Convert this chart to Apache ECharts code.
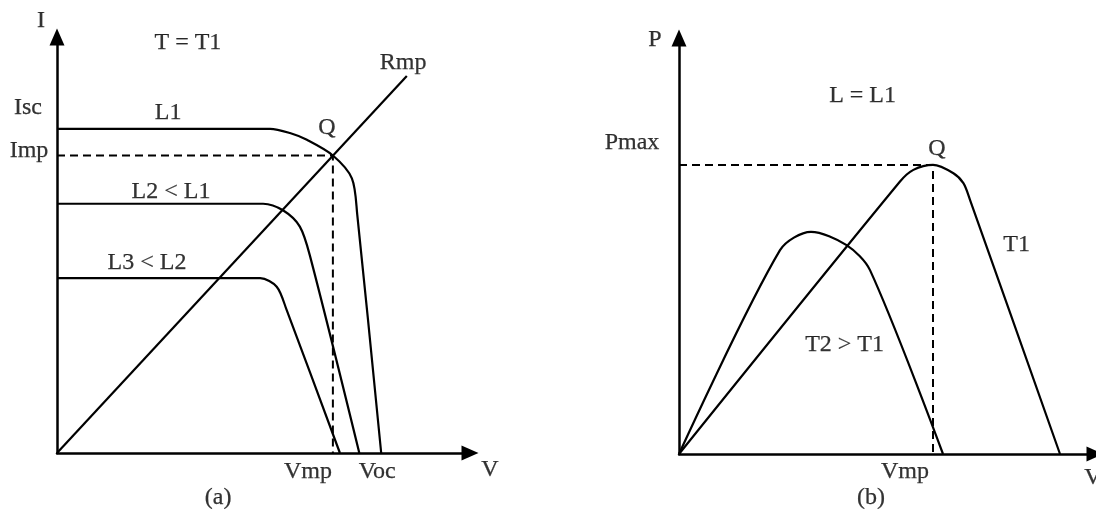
<!DOCTYPE html>
<html>
<head>
<meta charset="utf-8">
<script src="https://cdn.jsdelivr.net/npm/echarts@6/dist/echarts.min.js"></script>
<style>
  html, body { margin: 0; padding: 0; background: #ffffff; }
  #chart { width: 1096px; height: 510px; }
</style>
</head>
<body>
<div id="chart"></div>
<script>
// ---- (a) I–V characteristics at constant temperature T = T1 ----
const ISC = 76.6;      // short-circuit current of L1
const IMP = 70.3;      // current at maximum power point Q
const VMP_A = 66.8;    // voltage at maximum power point Q
const VOC = 78.5;      // open-circuit voltage of L1

const curveL1 = [[0, ISC], [51.6, ISC], [56.4, 75.6], [60.5, 74.0], [VMP_A, IMP],
                 [71.4, 64.9], [72.7, 56.3], [VOC, 0]];
const curveL2 = [[0, 58.9], [49.9, 58.9], [54.8, 57.3], [58.8, 53.5], [61.3, 46.4], [73.2, 0]];
const curveL3 = [[0, 41.3], [49.2, 41.3], [53.2, 39.3], [55.6, 33.8], [68.5, 0]];
const lineRmp = [[0, 0], [84.7, 89.1]];

// ---- (b) P–V characteristics at constant irradiance L = L1 ----
const PMAX = 69.5;     // maximum power of T1
const VMP_B = 63.5;    // voltage at maximum power of T1

const curveT1 = [[0, 0], [55.25, 65.5], [58.6, 68.3], [VMP_B, PMAX],
                 [68.6, 67.5], [71.1, 65.1], [72.75, 61.1], [95.25, 0]];
const curveT2 = [[0, 0], [25.25, 49.0], [33.0, 53.4], [41.9, 50.2],
                 [47.75, 44.2], [66.0, 0]];

// axis extents (value units)
const axisA = { xMax: 100, yMax: 98.3 };
const axisB = { xMax: 104, yMax: 100 };

// free-standing text: [text, x, y]
const textA = [
  ['I', -3.9, 102.1],
  ['T = T1', 31.7, 96.9],
  ['Rmp', 83.8, 92.2],
  ['L1', 26.9, 80.4],
  ['L2 < L1', 27.6, 61.7],
  ['L3 < L2', 21.8, 44.9],
  ['V', 104.8, -4.0],
  ['(a)', 39.0, -10.6]
];
const textB = [
  ['P', -6.0, 99.5],
  ['L = L1', 45.9, 86.1],
  ['T1', 84.4, 50.2],
  ['T2 > T1', 41.4, 26.2],
  ['V', 103.5, -5.8],
  ['(b)', 48.0, -10.6]
];

const FONT = {
  fontFamily: "'Liberation Serif', 'Times New Roman', serif", fontSize: 24, color: '#000',
  textBorderColor: '#000', textBorderWidth: 0.25
};

function noteItem(text, x, y, dx, dy) {
  return { name: text, value: [x, y], label: { offset: [dx || 0, dy || 0] } };
}

// labels tied to the values they name
const valueNotesA = [
  noteItem('Isc', 0, ISC, -29, -21),
  noteItem('Imp', 0, IMP, -28, -5),
  noteItem('Q', VMP_A, IMP, -6, -28),
  noteItem('Vmp', VMP_A, 0, -25, 19),
  noteItem('Voc', VOC, 0, -4, 19)
];
const valueNotesB = [
  noteItem('Pmax', 0, PMAX, -47, -22),
  noteItem('Q', VMP_B, PMAX, 4, -16),
  noteItem('Vmp', VMP_B, 0, -28, 18)
];

function axisLine() {
  return {
    show: true,
    onZero: false,
    symbol: ['none', 'triangle'],
    symbolSize: [15, 17],
    lineStyle: { color: '#000', width: 2.5 }
  };
}
function valueAxis(gridIndex, max) {
  return {
    type: 'value', gridIndex, min: 0, max,
    axisLine: axisLine(),
    axisTick: { show: false },
    axisLabel: { show: false },
    splitLine: { show: false }
  };
}
function curve(data, axisIdx) {
  return {
    type: 'line', data, xAxisIndex: axisIdx, yAxisIndex: axisIdx,
    symbol: 'none', smooth: 0.3, silent: true,
    lineStyle: { color: '#000', width: 2.2, join: 'round' }
  };
}
function straight(data, axisIdx, dashed) {
  return {
    type: 'line', data, xAxisIndex: axisIdx, yAxisIndex: axisIdx,
    symbol: 'none', smooth: false, silent: true,
    lineStyle: { color: '#000', width: dashed ? 2 : 2.2, type: dashed ? [8, 5] : 'solid' }
  };
}
function notes(items, axisIdx) {
  return {
    type: 'scatter', xAxisIndex: axisIdx, yAxisIndex: axisIdx,
    clip: false, silent: true, symbolSize: 1,
    itemStyle: { color: 'transparent' },
    label: Object.assign({
      show: true, position: 'inside', align: 'center', verticalAlign: 'middle',
      formatter: p => p.name
    }, FONT),
    data: items
  };
}

const chart = echarts.init(document.getElementById('chart'), null, { renderer: 'canvas' });
chart.setOption({
  backgroundColor: '#ffffff',
  animation: false,
  grid: [
    { left: 57, top: 37, width: 413, height: 416 },
    { left: 679, top: 38, width: 416, height: 416 }
  ],
  xAxis: [valueAxis(0, axisA.xMax), valueAxis(1, axisB.xMax)],
  yAxis: [valueAxis(0, axisA.yMax), valueAxis(1, axisB.yMax)],
  series: [
    curve(curveL1, 0),
    curve(curveL2, 0),
    curve(curveL3, 0),
    straight(lineRmp, 0, false),
    straight([[0, IMP], [VMP_A, IMP], [VMP_A, 0]], 0, true),
    notes(textA.map(t => noteItem(t[0], t[1], t[2])).concat(valueNotesA), 0),

    curve(curveT1, 1),
    curve(curveT2, 1),
    straight([[0, PMAX], [VMP_B, PMAX], [VMP_B, 0]], 1, true),
    notes(textB.map(t => noteItem(t[0], t[1], t[2])).concat(valueNotesB), 1)
  ]
});
</script>
</body>
</html>
